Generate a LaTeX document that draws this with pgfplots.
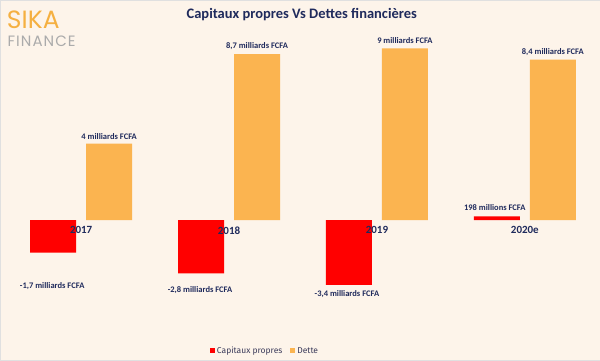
\documentclass[border=0pt]{standalone}
\usepackage{fontspec}
\setmainfont{Carlito}
\newfontfamily\legfont{Fira Sans}
\newfontfamily\logofont{Poppins}
\newfontfamily\logospaced[LetterSpace=7]{Poppins}
\usepackage{pgfplots}
\pgfplotsset{compat=1.18}
\definecolor{bg}{HTML}{FDF4EA}
\definecolor{cred}{HTML}{FF0000}
\definecolor{corange}{HTML}{FBB450}
\definecolor{navy}{HTML}{1F2A5C}
\definecolor{legtext}{HTML}{3A3A5A}
\definecolor{logoor}{HTML}{F5B041}
\definecolor{logogray}{HTML}{ABABAB}
\begin{document}
\begin{tikzpicture}
\begin{axis}[
  set layers, axis on top,
  scale only axis, width=600pt, height=360pt,
  xmin=-0.5473, xmax=3.5068, ymin=-7.33, ymax=11.52,
  axis background/.style={fill=bg, draw=black!12},
  axis x line=middle, axis y line=none,
  x axis line style={draw=none},
  hide obscured x ticks=false,
  xtick={0,1,2,3},
  xticklabels={\textbf{2017},\textbf{2018},\textbf{2019},\textbf{2020e}},
  major tick length=0pt,
  xticklabel style={font=\fontsize{11}{12}\selectfont\bfseries, text=navy, anchor=north, yshift=-3pt},
  /pgf/number format/assume math mode=true,
  ybar=10pt, bar width=46pt,
  legend style={at={(rel axis cs:0.4417,0.025)}, anchor=center, draw=none, fill=none,
    font=\legfont\fontsize{8.5}{10}\selectfont, text=legtext,
    /tikz/every even column/.append style={column sep=6pt}},
  legend columns=2,
  legend image code/.code={\fill[#1] (0pt,-2.5pt) rectangle (5pt,2.5pt);},
]
\addplot[fill=cred, draw=none] coordinates {(0,-1.7) (1,-2.8) (2,-3.4) (3,0.198)};
\addlegendentry{Capitaux propres}
\addplot[fill=corange, draw=none, nodes near coords, point meta=explicit symbolic,
  nodes near coords style={font=\fontsize{8.5}{10}\selectfont\bfseries, text=navy, anchor=south, yshift=1pt}]
  coordinates {(0,4)[4 milliards FCFA] (1,8.7)[8,7 milliards FCFA] (2,9)[9 milliards FCFA] (3,8.4)[8,4 milliards FCFA]};
\addlegendentry{Dette}
\node[font=\fontsize{8.5}{10}\selectfont\bfseries, text=navy] at (axis cs:-0.196,-3.46) {-1,7 milliards FCFA};
\node[font=\fontsize{8.5}{10}\selectfont\bfseries, text=navy] at (axis cs:0.804,-3.66) {-2,8 milliards FCFA};
\node[font=\fontsize{8.5}{10}\selectfont\bfseries, text=navy] at (axis cs:1.797,-3.87) {-3,4 milliards FCFA};
\node[font=\fontsize{8.5}{10}\selectfont\bfseries, text=navy] at (axis cs:2.797,0.68) {198 millions FCFA};
\node[font=\fontsize{14.5}{16}\selectfont\bfseries, text=navy] at (rel axis cs:0.503,0.961) {Capitaux propres Vs Dettes financières};
\node[anchor=base west, inner sep=0pt, text depth=0pt, font=\logofont\fontsize{25}{27}\selectfont, text=logoor] at (rel axis cs:0.011,0.921) {SIKA};
\node[anchor=base west, inner sep=0pt, text height=11pt, font=\logospaced\fontsize{15}{17}\selectfont, text=logogray] at (rel axis cs:0.012,0.872) {FINANCE};
\end{axis}
\end{tikzpicture}
\end{document}
